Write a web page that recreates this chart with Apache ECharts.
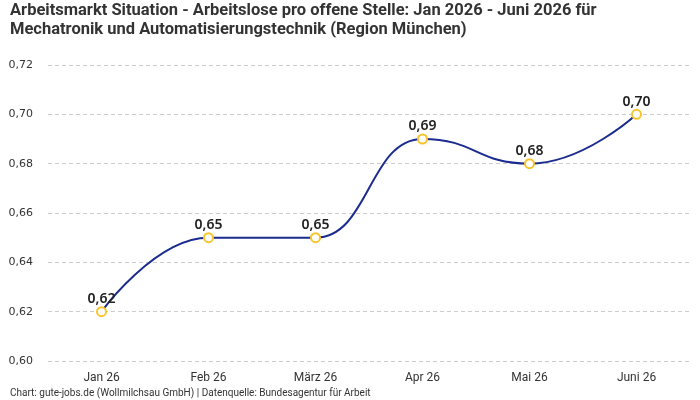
<!DOCTYPE html>
<html>
<head>
<meta charset="utf-8">
<script src="https://cdn.jsdelivr.net/npm/echarts@6/dist/echarts.min.js"></script>
<style>html,body{margin:0;padding:0;background:#fff}#c{width:700px;height:400px}</style>
</head>
<body>
<div id="c"></div>
<script>
const categories = ['Jan 26', 'Feb 26', 'März 26', 'Apr 26', 'Mai 26', 'Juni 26'];
const values = [0.62, 0.65, 0.65, 0.69, 0.68, 0.70];
const yMin = 0.60, yMax = 0.72, yStep = 0.02;
const titleText = 'Arbeitsmarkt Situation - Arbeitslose pro offene Stelle: Jan 2026 - Juni 2026 für\nMechatronik und Automatisierungstechnik (Region München)';
const footerText = 'Chart: gute-jobs.de (Wollmilchsau GmbH) | Datenquelle: Bundesagentur für Arbeit';

const fmt = v => v.toFixed(2).replace('.', ',');
const chart = echarts.init(document.getElementById('c'), null, {renderer: 'canvas'});
chart.setOption({
  animation: false,
  backgroundColor: '#fff',
  title: [{
    text: titleText,
    left: 10, top: 1, padding: 0,
    textStyle: {fontFamily: 'Roboto', fontSize: 16.5, fontWeight: 'bold', color: '#333', lineHeight: 19}
  }, {
    text: footerText,
    left: 10, bottom: 2, padding: 0,
    textStyle: {fontFamily: 'Roboto', fontSize: 10, fontWeight: 'normal', color: '#333'}
  }],
  grid: {left: 48, right: 10, top: 65, bottom: 39},
  xAxis: {
    type: 'category', data: categories, boundaryGap: true,
    axisLine: {show: false}, axisTick: {show: false},
    axisLabel: {fontFamily: 'Roboto', fontSize: 12, color: '#333', margin: 11}
  },
  yAxis: {
    type: 'value', min: yMin, max: yMax, interval: yStep,
    axisLine: {show: false}, axisTick: {show: false},
    axisLabel: {fontFamily: 'DejaVu Sans', fontSize: 11, color: '#333', margin: 15, formatter: fmt},
    splitLine: {lineStyle: {type: [4, 3], color: '#cccccc', width: 1}}
  },
  series: [{
    type: 'line', data: values,
    smooth: 0.5, smoothMonotone: 'x',
    lineStyle: {color: '#1b2b8f', width: 2},
    symbol: 'circle', symbolSize: 9,
    itemStyle: {color: '#ffffff', borderColor: '#f7c52b', borderWidth: 2},
    label: {show: true, position: 'top', distance: 0, formatter: p => fmt(p.value),
      fontFamily: 'Noto Sans', fontSize: 14, fontWeight: 600, color: '#222'}
  }]
});
</script>
</body>
</html>
